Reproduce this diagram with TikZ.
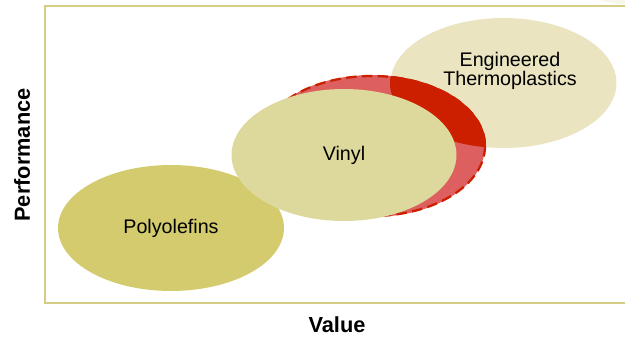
\documentclass[tikz,border=0pt]{standalone}
\usepackage{fontspec}
\setmainfont{Liberation Sans}
\usetikzlibrary{shapes.geometric}
\definecolor{frameline}{HTML}{D6CC83}
\definecolor{polycol}{HTML}{D3CB6D}
\definecolor{vinylcol}{HTML}{DDD89B}
\definecolor{engcol}{HTML}{EAE4C1}
\definecolor{lightred}{HTML}{DD5F5F}
\definecolor{darkred}{HTML}{CC1F00}
\tikzset{blob/.style={ellipse, inner sep=+0pt, minimum width=4.52cm, font=\fontsize{11.2}{10.5}\selectfont, align=center}}
\tikzset{axislabel/.style={font=\fontsize{12.4}{14}\selectfont\bfseries}}
\tikzset{frame/.style={draw=frameline, line width=1.2pt}}

\begin{document}
\begin{tikzpicture}[x=0.02cm, y=-0.02cm]
    \useasboundingbox (0,0) rectangle (625,337);

    % faint cropped shape at the top right
    \begin{scope}
        \clip (560,0) rectangle (625,5);
        \fill[color=engcol!35] (640,-30) ellipse [x radius=80, y radius=35];
    \end{scope}

    \draw[frame] (625,6) -- (45,6) -- (45,303) -- (625,303);

    \node[blob, fill=engcol, minimum height=2.6cm] (eng) at (503.5,83) {};
    \node[blob, fill=lightred, minimum height=2.84cm] (red) at (372,146) {};

    % overlap of the red field with the thermoplastics
    \begin{scope}
        \clip (eng.center) ellipse [x radius=113.5, y radius=65];
        \fill[darkred] (red.center) ellipse [x radius=114, y radius=71];
    \end{scope}
    \draw[darkred, line width=1.3pt, dash pattern=on 6pt off 3pt] (red.center) ellipse [x radius=113, y radius=70];

    \node[blob, fill=polycol, minimum height=2.52cm] (poly) at (171,228) {Polyolefins};
    \node[blob, fill=vinylcol, minimum width=4.5cm, minimum height=2.64cm] (vinyl) at (344,155) {Vinyl};

    \node[font=\fontsize{11.2}{11}\selectfont, align=center] (englabel) at (510,71) {Engineered\\Thermoplastics};

    \node[axislabel, rotate=90] (perf) at (22,155) {Performance};
    \node[axislabel] (value) at (337,325) {Value};

\end{tikzpicture}
\end{document}
